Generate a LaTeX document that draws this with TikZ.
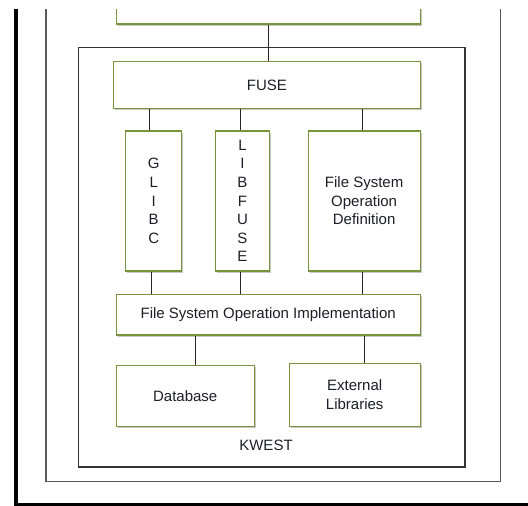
\documentclass[tikz,border=0pt]{standalone}
\usepackage{fontspec}
\setmainfont{Liberation Sans}
\usetikzlibrary{shadows}
\definecolor{boxgreen}{RGB}{119,147,60}
\definecolor{txt}{RGB}{30,30,40}
\tikzset{
  blk/.style={draw=boxgreen, line width=1.2pt, fill=white, rectangle, inner sep=0pt,
    text=txt, align=center, font=\fontsize{15pt}{18.6pt}\selectfont,
    drop shadow={shadow xshift=1.6pt, shadow yshift=-1.6pt, opacity=0.22, fill=black}},
  conn/.style={draw=black!85, line width=0.9pt},
  frameline/.style={draw=black!70, line width=1.3pt},
  lbl/.style={text=txt, font=\fontsize{15pt}{18.6pt}\selectfont, inner sep=0pt}
}
\begin{document}
\begin{tikzpicture}[x=1pt,y=-1pt]
\useasboundingbox (0,0) rectangle (528,506);
\begin{scope}
\clip (0,9) rectangle (528,506);
% outer frames
\draw[line width=4pt, black] (16,0) -- (16,504.5) -- (529.8,504.5) -- (529.8,0);
\draw[frameline, draw=black!65] (46.1,0) -- (46.1,481.7) -- (500.3,481.7) -- (500.3,0);
\node[draw=black!80, line width=1.1pt, rectangle, inner sep=0pt, minimum width=386.2pt, minimum height=419.3pt] (kwest) at (271.9,257.35) {};
\node[lbl] (kwestlbl) at (266,445) {KWEST};
% boxes
\node[blk, minimum width=304pt, minimum height=60pt] (top) at (268.2,-6) {};
\node[blk, minimum width=306.4pt, minimum height=46.6pt] (fuse) at (267,85) {FUSE};
\node[blk, minimum width=56.2pt, minimum height=140pt] (glibc) at (153.7,201) {G\\L\\I\\B\\C};
\node[blk, minimum width=53.9pt, minimum height=140pt] (libfuse) at (242.45,201) {L\\I\\B\\F\\U\\S\\E};
\node[blk, minimum width=112.1pt, minimum height=140pt] (fsod) at (364.15,201) {File System\\Operation\\Definition};
\node[blk, minimum width=304pt, minimum height=40.3pt] (fsoi) at (268.2,314.85) {File System Operation Implementation};
\node[blk, minimum width=138pt, minimum height=60.6pt] (db) at (185.2,396) {Database};
\node[blk, minimum width=131pt, minimum height=63pt] (ext) at (354.7,394.8) {External\\Libraries};
% connectors
\draw[conn] (top.south) -- (top.south |- fuse.north);
\path (glibc.north) ++(-4.5,0) coordinate (c1);
\draw[conn] (c1) -- (c1 |- fuse.south);
\path (libfuse.north) ++(-2,0) coordinate (c2);
\draw[conn] (c2) -- (c2 |- fuse.south);
\path (fsod.north) ++(-2,0) coordinate (c3);
\draw[conn] (c3) -- (c3 |- fuse.south);
\path (glibc.south) ++(-2.5,0) coordinate (c4);
\draw[conn] (c4) -- (c4 |- fsoi.north);
\path (libfuse.south) ++(-2,0) coordinate (c5);
\draw[conn] (c5) -- (c5 |- fsoi.north);
\path (fsod.south) ++(-2,0) coordinate (c6);
\draw[conn] (c6) -- (c6 |- fsoi.north);
\path (db.north) ++(10.4,0) coordinate (c7);
\draw[conn] (c7) -- (c7 |- fsoi.south);
\path (ext.north) ++(9.3,0) coordinate (c8);
\draw[conn] (c8) -- (c8 |- fsoi.south);
\end{scope}
\end{tikzpicture}
\end{document}
